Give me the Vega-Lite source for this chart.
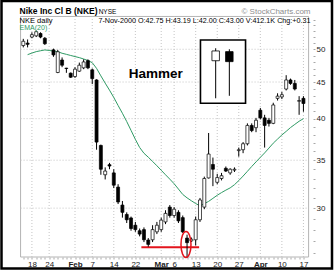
{
  "$schema": "https://vega.github.io/schema/vega-lite/v6.json",
  "width": 330.5,
  "height": 267.5,
  "autosize": {"type": "none"},
  "padding": {"left": 1.5, "top": 1, "right": 4, "bottom": 4.5},
  "background": "white",
  "config": {"view": {"stroke": "black", "strokeWidth": 2.5}, "font": "Liberation Sans"},
  "datasets": {
    "candles": [
      {"d": -2, "o": 50.6, "h": 51.7, "l": 50.3, "c": 51.3},
      {"d": -1, "o": 51.0, "h": 51.6, "l": 50.3, "c": 50.8},
      {"d": 0, "o": 52.0, "h": 52.8, "l": 51.8, "c": 52.4},
      {"d": 1, "o": 52.2, "h": 53.1, "l": 52.0, "c": 52.9},
      {"d": 2, "o": 52.6, "h": 52.8, "l": 51.8, "c": 52.0},
      {"d": 3, "o": 51.8, "h": 52.0, "l": 50.7, "c": 50.9},
      {"d": 5, "o": 49.9, "h": 50.1, "l": 48.8, "c": 49.1},
      {"d": 6, "o": 46.4, "h": 49.9, "l": 46.3, "c": 49.6},
      {"d": 7, "o": 48.3, "h": 48.7, "l": 47.2, "c": 47.5},
      {"d": 8, "o": 47.05, "h": 47.1, "l": 46.35, "c": 47.0},
      {"d": 9, "o": 46.3, "h": 46.4, "l": 45.6, "c": 45.7},
      {"d": 10, "o": 45.8, "h": 47.2, "l": 45.6, "c": 46.9},
      {"d": 11, "o": 46.6, "h": 47.9, "l": 46.5, "c": 47.5},
      {"d": 12, "o": 47.1, "h": 48.4, "l": 46.9, "c": 48.0},
      {"d": 13, "o": 48.2, "h": 48.4, "l": 46.9, "c": 47.1},
      {"d": 14, "o": 46.8, "h": 47.0, "l": 44.7, "c": 45.5},
      {"d": 15, "o": 45.3, "h": 45.4, "l": 36.2, "c": 37.1},
      {"d": 16, "o": 36.7, "h": 36.8, "l": 33.4, "c": 34.0},
      {"d": 17, "o": 33.4, "h": 34.2, "l": 32.9, "c": 33.8},
      {"d": 18, "o": 34.5, "h": 34.7, "l": 34.0, "c": 34.35},
      {"d": 19, "o": 33.6, "h": 34.0, "l": 32.0, "c": 32.3},
      {"d": 20, "o": 32.1, "h": 32.4, "l": 30.4, "c": 30.6},
      {"d": 21, "o": 30.3, "h": 30.7, "l": 29.1, "c": 29.6},
      {"d": 22, "o": 29.4, "h": 29.6, "l": 28.6, "c": 28.9},
      {"d": 23, "o": 29.07, "h": 29.2, "l": 27.9, "c": 28.1},
      {"d": 24, "o": 28.4, "h": 28.7, "l": 27.8, "c": 28.0},
      {"d": 25, "o": 27.9, "h": 28.1, "l": 27.4, "c": 27.6},
      {"d": 26, "o": 28.0, "h": 28.2, "l": 26.9, "c": 27.1},
      {"d": 27, "o": 27.08, "h": 27.25, "l": 26.5, "c": 26.7},
      {"d": 28, "o": 27.1, "h": 28.4, "l": 26.9, "c": 28.0},
      {"d": 29, "o": 27.8, "h": 28.7, "l": 27.6, "c": 28.4},
      {"d": 30, "o": 28.0, "h": 29.1, "l": 27.8, "c": 28.87},
      {"d": 31, "o": 28.7, "h": 29.8, "l": 28.5, "c": 29.5},
      {"d": 32, "o": 30.1, "h": 30.3, "l": 29.1, "c": 29.3},
      {"d": 33, "o": 29.3, "h": 30.1, "l": 29.1, "c": 29.9},
      {"d": 34, "o": 29.6, "h": 29.8, "l": 28.6, "c": 28.8},
      {"d": 35, "o": 29.1, "h": 29.3, "l": 27.7, "c": 27.8},
      {"d": 36, "o": 27.25, "h": 27.55, "l": 25.6, "c": 26.85},
      {"d": 37, "o": 27.0, "h": 27.3, "l": 26.9, "c": 27.15},
      {"d": 38, "o": 27.1, "h": 29.2, "l": 26.6, "c": 28.9},
      {"d": 39, "o": 28.9, "h": 31.0, "l": 28.7, "c": 30.8},
      {"d": 40, "o": 30.1, "h": 33.2, "l": 29.9, "c": 33.0},
      {"d": 41, "o": 33.06, "h": 38.2, "l": 33.0, "c": 35.7},
      {"d": 42, "o": 34.52, "h": 35.3, "l": 32.2, "c": 34.0},
      {"d": 43, "o": 32.6, "h": 33.5, "l": 32.4, "c": 33.1},
      {"d": 44, "o": 33.0, "h": 33.6, "l": 32.8, "c": 33.3},
      {"d": 45, "o": 34.1, "h": 34.3, "l": 33.7, "c": 33.8},
      {"d": 46, "o": 33.6, "h": 34.1, "l": 33.4, "c": 34.0},
      {"d": 47, "o": 33.9, "h": 34.2, "l": 33.7, "c": 34.0},
      {"d": 48, "o": 36.1, "h": 36.45, "l": 35.4, "c": 36.2},
      {"d": 49, "o": 36.2, "h": 37.1, "l": 35.8, "c": 36.9},
      {"d": 50, "o": 36.9, "h": 39.4, "l": 36.7, "c": 39.14},
      {"d": 51, "o": 39.14, "h": 39.4, "l": 38.3, "c": 38.5},
      {"d": 52, "o": 38.86, "h": 40.1, "l": 38.3, "c": 39.8},
      {"d": 53, "o": 41.1, "h": 41.4, "l": 39.9, "c": 40.1},
      {"d": 54, "o": 40.1, "h": 40.5, "l": 36.45, "c": 39.14},
      {"d": 55, "o": 39.8, "h": 40.1, "l": 39.0, "c": 39.4},
      {"d": 56, "o": 39.4, "h": 42.1, "l": 39.3, "c": 41.8},
      {"d": 57, "o": 42.7, "h": 43.4, "l": 42.4, "c": 43.0},
      {"d": 58, "o": 42.9, "h": 43.6, "l": 42.6, "c": 43.2},
      {"d": 59, "o": 44.0, "h": 46.0, "l": 43.8, "c": 45.3},
      {"d": 60, "o": 45.3, "h": 45.5, "l": 44.6, "c": 44.8},
      {"d": 61, "o": 44.8, "h": 45.3, "l": 43.8, "c": 44.0},
      {"d": 62, "o": 42.3, "h": 43.0, "l": 40.5, "c": 42.4},
      {"d": 63, "o": 42.7, "h": 43.0, "l": 40.9, "c": 42.0}
    ],
    "ema": [
      {"d": -1, "ema": 49.14}, {"d": 0, "ema": 49.39}, {"d": 1, "ema": 49.62}, {"d": 2, "ema": 49.76},
      {"d": 3, "ema": 49.89}, {"d": 4, "ema": 49.81}, {"d": 5, "ema": 49.71}, {"d": 6, "ema": 49.62},
      {"d": 7, "ema": 49.36}, {"d": 8, "ema": 49.19}, {"d": 9, "ema": 49.01}, {"d": 10, "ema": 48.84},
      {"d": 11, "ema": 48.67}, {"d": 12, "ema": 48.46}, {"d": 13, "ema": 48.22}, {"d": 14, "ema": 47.89},
      {"d": 15, "ema": 47.02}, {"d": 16, "ema": 45.9}, {"d": 17, "ema": 44.84}, {"d": 18, "ema": 43.84},
      {"d": 19, "ema": 42.82}, {"d": 20, "ema": 41.73}, {"d": 21, "ema": 40.7}, {"d": 22, "ema": 39.63},
      {"d": 23, "ema": 38.52}, {"d": 24, "ema": 37.43}, {"d": 25, "ema": 36.46}, {"d": 26, "ema": 35.79},
      {"d": 27, "ema": 35.34}, {"d": 28, "ema": 34.86}, {"d": 29, "ema": 34.38}, {"d": 30, "ema": 33.89},
      {"d": 31, "ema": 33.4}, {"d": 32, "ema": 32.93}, {"d": 33, "ema": 32.45}, {"d": 34, "ema": 31.9},
      {"d": 35, "ema": 31.35}, {"d": 36, "ema": 31.01}, {"d": 37, "ema": 30.72}, {"d": 38, "ema": 30.45},
      {"d": 39, "ema": 30.22}, {"d": 40, "ema": 30.44}, {"d": 41, "ema": 30.66}, {"d": 42, "ema": 30.96},
      {"d": 43, "ema": 31.27}, {"d": 44, "ema": 31.54}, {"d": 45, "ema": 31.79}, {"d": 46, "ema": 32.02},
      {"d": 47, "ema": 32.35}, {"d": 48, "ema": 32.78}, {"d": 49, "ema": 33.26}, {"d": 50, "ema": 33.77},
      {"d": 51, "ema": 34.3}, {"d": 52, "ema": 34.81}, {"d": 53, "ema": 35.32}, {"d": 54, "ema": 35.83},
      {"d": 55, "ema": 36.39}, {"d": 56, "ema": 36.97}, {"d": 57, "ema": 37.46}, {"d": 58, "ema": 37.96},
      {"d": 59, "ema": 38.4}, {"d": 60, "ema": 38.87}, {"d": 61, "ema": 39.27}, {"d": 62, "ema": 39.67},
      {"d": 63, "ema": 40.0}
    ],
    "xgrid": [
      {"d": 0}, {"d": 4}, {"d": 10}, {"d": 14}, {"d": 19}, {"d": 24}, {"d": 30},
      {"d": 33}, {"d": 38}, {"d": 43}, {"d": 48}, {"d": 53}, {"d": 58}, {"d": 63}
    ],
    "ygrid": [{"p": 30}, {"p": 35}, {"p": 40}, {"p": 45}, {"p": 50}],
    "legendCandles": [
      {"d": 42.64, "o": 48.19, "h": 50.16, "l": 42.71, "c": 49.73},
      {"d": 45.81, "o": 49.62, "h": 50.0, "l": 43.05, "c": 48.05}
    ]
  },
  "layer": [
    {
      "data": {"values": [{}]},
      "mark": {"type": "rect", "fill": null, "stroke": "#b4b4b4", "strokeWidth": 1},
      "encoding": {
        "x": {"datum": -2.633, "type": "quantitative", "scale": {"domain": [-5.896, 68.47], "nice": false, "zero": false}, "axis": {"orient": "bottom", "offset": -11.5, "domain": false, "grid": false, "title": null, "values": [-2,-1,0,1,2,3,4,5,6,7,8,9,10,11,12,13,14,15,16,17,18,19,20,21,22,23,24,25,26,27,28,29,30,31,32,33,34,35,36,37,38,39,40,41,42,43,44,45,46,47,48,49,50,51,52,53,54,55,56,57,58,59,60,61,62,63], "tickSize": 2, "tickColor": "#a8a8a8", "tickWidth": 1, "labelExpr": "indexof([0,4,10,14,19,24,30,33,38,43,48,53,58,63], datum.value) >= 0 ? ['18','24','Feb','7','14','22','Mar','6','13','20','27','Apr','10','17'][indexof([0,4,10,14,19,24,30,33,38,43,48,53,58,63], datum.value)] : ''", "labelFontSize": 8, "labelColor": "#222222", "labelPadding": 1, "labelOverlap": false, "labelFlush": false, "labelBound": false, "labelFontWeight": {"condition": {"test": "indexof([10,30,53], datum.value) >= 0", "value": "bold"}, "value": "normal"}}},
        "x2": {"datum": 64.2},
        "y": {"datum": 25.64, "type": "quantitative", "scale": {"type": "log", "domain": [24.71, 58.39], "nice": false}, "axis": {"orient": "right", "offset": -19, "domain": false, "grid": false, "title": null, "values": [26,27,28,29,30,31,32,33,34,35,36,37,38,39,40,41,42,43,44,45,46,47,48,49,50,51,52,53,54,55], "tickSize": 2, "tickColor": "#a8a8a8", "labelExpr": "(datum.value % 5 == 0 && datum.value >= 30 && datum.value <= 50) ? datum.label : ''", "labelFontSize": 8, "labelColor": "#222222", "labelPadding": 1, "labelOverlap": false, "labelBound": false}},
        "y2": {"datum": 55.56}
      }
    },
    {
      "data": {"name": "xgrid"},
      "mark": {"type": "rule", "stroke": "#c4c4c4", "strokeWidth": 1, "strokeDash": [1, 2]},
      "encoding": {
        "x": {"field": "d", "type": "quantitative", "scale": {"domain": [-5.896, 68.47], "nice": false, "zero": false}, "axis": {"orient": "bottom", "offset": -11.5, "domain": false, "grid": false, "title": null, "values": [-2,-1,0,1,2,3,4,5,6,7,8,9,10,11,12,13,14,15,16,17,18,19,20,21,22,23,24,25,26,27,28,29,30,31,32,33,34,35,36,37,38,39,40,41,42,43,44,45,46,47,48,49,50,51,52,53,54,55,56,57,58,59,60,61,62,63], "tickSize": 2, "tickColor": "#a8a8a8", "tickWidth": 1, "labelExpr": "indexof([0,4,10,14,19,24,30,33,38,43,48,53,58,63], datum.value) >= 0 ? ['18','24','Feb','7','14','22','Mar','6','13','20','27','Apr','10','17'][indexof([0,4,10,14,19,24,30,33,38,43,48,53,58,63], datum.value)] : ''", "labelFontSize": 8, "labelColor": "#222222", "labelPadding": 1, "labelOverlap": false, "labelFlush": false, "labelBound": false, "labelFontWeight": {"condition": {"test": "indexof([10,30,53], datum.value) >= 0", "value": "bold"}, "value": "normal"}}},
        "y": {"datum": 25.64, "type": "quantitative", "scale": {"type": "log", "domain": [24.71, 58.39], "nice": false}, "axis": {"orient": "right", "offset": -19, "domain": false, "grid": false, "title": null, "values": [26,27,28,29,30,31,32,33,34,35,36,37,38,39,40,41,42,43,44,45,46,47,48,49,50,51,52,53,54,55], "tickSize": 2, "tickColor": "#a8a8a8", "labelExpr": "(datum.value % 5 == 0 && datum.value >= 30 && datum.value <= 50) ? datum.label : ''", "labelFontSize": 8, "labelColor": "#222222", "labelPadding": 1, "labelOverlap": false, "labelBound": false}},
        "y2": {"datum": 55.56}
      }
    },
    {
      "data": {"name": "ygrid"},
      "mark": {"type": "rule", "stroke": "#c4c4c4", "strokeWidth": 1, "strokeDash": [1, 2]},
      "encoding": {
        "x": {"datum": -2.633, "type": "quantitative", "scale": {"domain": [-5.896, 68.47], "nice": false, "zero": false}, "axis": {"orient": "bottom", "offset": -11.5, "domain": false, "grid": false, "title": null, "values": [-2,-1,0,1,2,3,4,5,6,7,8,9,10,11,12,13,14,15,16,17,18,19,20,21,22,23,24,25,26,27,28,29,30,31,32,33,34,35,36,37,38,39,40,41,42,43,44,45,46,47,48,49,50,51,52,53,54,55,56,57,58,59,60,61,62,63], "tickSize": 2, "tickColor": "#a8a8a8", "tickWidth": 1, "labelExpr": "indexof([0,4,10,14,19,24,30,33,38,43,48,53,58,63], datum.value) >= 0 ? ['18','24','Feb','7','14','22','Mar','6','13','20','27','Apr','10','17'][indexof([0,4,10,14,19,24,30,33,38,43,48,53,58,63], datum.value)] : ''", "labelFontSize": 8, "labelColor": "#222222", "labelPadding": 1, "labelOverlap": false, "labelFlush": false, "labelBound": false, "labelFontWeight": {"condition": {"test": "indexof([10,30,53], datum.value) >= 0", "value": "bold"}, "value": "normal"}}},
        "x2": {"datum": 64.2},
        "y": {"field": "p", "type": "quantitative", "scale": {"type": "log", "domain": [24.71, 58.39], "nice": false}, "axis": {"orient": "right", "offset": -19, "domain": false, "grid": false, "title": null, "values": [26,27,28,29,30,31,32,33,34,35,36,37,38,39,40,41,42,43,44,45,46,47,48,49,50,51,52,53,54,55], "tickSize": 2, "tickColor": "#a8a8a8", "labelExpr": "(datum.value % 5 == 0 && datum.value >= 30 && datum.value <= 50) ? datum.label : ''", "labelFontSize": 8, "labelColor": "#222222", "labelPadding": 1, "labelOverlap": false, "labelBound": false}}
      }
    },
    {
      "data": {"name": "ema"},
      "mark": {"type": "line", "stroke": "#2f9a64", "strokeWidth": 1},
      "encoding": {
        "x": {"field": "d", "type": "quantitative", "scale": {"domain": [-5.896, 68.47], "nice": false, "zero": false}, "axis": {"orient": "bottom", "offset": -11.5, "domain": false, "grid": false, "title": null, "values": [-2,-1,0,1,2,3,4,5,6,7,8,9,10,11,12,13,14,15,16,17,18,19,20,21,22,23,24,25,26,27,28,29,30,31,32,33,34,35,36,37,38,39,40,41,42,43,44,45,46,47,48,49,50,51,52,53,54,55,56,57,58,59,60,61,62,63], "tickSize": 2, "tickColor": "#a8a8a8", "tickWidth": 1, "labelExpr": "indexof([0,4,10,14,19,24,30,33,38,43,48,53,58,63], datum.value) >= 0 ? ['18','24','Feb','7','14','22','Mar','6','13','20','27','Apr','10','17'][indexof([0,4,10,14,19,24,30,33,38,43,48,53,58,63], datum.value)] : ''", "labelFontSize": 8, "labelColor": "#222222", "labelPadding": 1, "labelOverlap": false, "labelFlush": false, "labelBound": false, "labelFontWeight": {"condition": {"test": "indexof([10,30,53], datum.value) >= 0", "value": "bold"}, "value": "normal"}}},
        "y": {"field": "ema", "type": "quantitative", "scale": {"type": "log", "domain": [24.71, 58.39], "nice": false}, "axis": {"orient": "right", "offset": -19, "domain": false, "grid": false, "title": null, "values": [26,27,28,29,30,31,32,33,34,35,36,37,38,39,40,41,42,43,44,45,46,47,48,49,50,51,52,53,54,55], "tickSize": 2, "tickColor": "#a8a8a8", "labelExpr": "(datum.value % 5 == 0 && datum.value >= 30 && datum.value <= 50) ? datum.label : ''", "labelFontSize": 8, "labelColor": "#222222", "labelPadding": 1, "labelOverlap": false, "labelBound": false}}
      }
    },
    {
      "data": {"values": [{}]},
      "mark": {"type": "rule", "stroke": "#e3141c", "strokeWidth": 2},
      "encoding": {
        "x": {"datum": 25.4, "type": "quantitative", "scale": {"domain": [-5.896, 68.47], "nice": false, "zero": false}, "axis": {"orient": "bottom", "offset": -11.5, "domain": false, "grid": false, "title": null, "values": [-2,-1,0,1,2,3,4,5,6,7,8,9,10,11,12,13,14,15,16,17,18,19,20,21,22,23,24,25,26,27,28,29,30,31,32,33,34,35,36,37,38,39,40,41,42,43,44,45,46,47,48,49,50,51,52,53,54,55,56,57,58,59,60,61,62,63], "tickSize": 2, "tickColor": "#a8a8a8", "tickWidth": 1, "labelExpr": "indexof([0,4,10,14,19,24,30,33,38,43,48,53,58,63], datum.value) >= 0 ? ['18','24','Feb','7','14','22','Mar','6','13','20','27','Apr','10','17'][indexof([0,4,10,14,19,24,30,33,38,43,48,53,58,63], datum.value)] : ''", "labelFontSize": 8, "labelColor": "#222222", "labelPadding": 1, "labelOverlap": false, "labelFlush": false, "labelBound": false, "labelFontWeight": {"condition": {"test": "indexof([10,30,53], datum.value) >= 0", "value": "bold"}, "value": "normal"}}},
        "x2": {"datum": 38.8},
        "y": {"datum": 26.45, "type": "quantitative", "scale": {"type": "log", "domain": [24.71, 58.39], "nice": false}, "axis": {"orient": "right", "offset": -19, "domain": false, "grid": false, "title": null, "values": [26,27,28,29,30,31,32,33,34,35,36,37,38,39,40,41,42,43,44,45,46,47,48,49,50,51,52,53,54,55], "tickSize": 2, "tickColor": "#a8a8a8", "labelExpr": "(datum.value % 5 == 0 && datum.value >= 30 && datum.value <= 50) ? datum.label : ''", "labelFontSize": 8, "labelColor": "#222222", "labelPadding": 1, "labelOverlap": false, "labelBound": false}}
      }
    },
    {
      "data": {"name": "candles"},
      "mark": {"type": "rule", "stroke": "black", "strokeWidth": 1},
      "encoding": {
        "x": {"field": "d", "type": "quantitative", "scale": {"domain": [-5.896, 68.47], "nice": false, "zero": false}, "axis": {"orient": "bottom", "offset": -11.5, "domain": false, "grid": false, "title": null, "values": [-2,-1,0,1,2,3,4,5,6,7,8,9,10,11,12,13,14,15,16,17,18,19,20,21,22,23,24,25,26,27,28,29,30,31,32,33,34,35,36,37,38,39,40,41,42,43,44,45,46,47,48,49,50,51,52,53,54,55,56,57,58,59,60,61,62,63], "tickSize": 2, "tickColor": "#a8a8a8", "tickWidth": 1, "labelExpr": "indexof([0,4,10,14,19,24,30,33,38,43,48,53,58,63], datum.value) >= 0 ? ['18','24','Feb','7','14','22','Mar','6','13','20','27','Apr','10','17'][indexof([0,4,10,14,19,24,30,33,38,43,48,53,58,63], datum.value)] : ''", "labelFontSize": 8, "labelColor": "#222222", "labelPadding": 1, "labelOverlap": false, "labelFlush": false, "labelBound": false, "labelFontWeight": {"condition": {"test": "indexof([10,30,53], datum.value) >= 0", "value": "bold"}, "value": "normal"}}},
        "y": {"field": "l", "type": "quantitative", "scale": {"type": "log", "domain": [24.71, 58.39], "nice": false}, "axis": {"orient": "right", "offset": -19, "domain": false, "grid": false, "title": null, "values": [26,27,28,29,30,31,32,33,34,35,36,37,38,39,40,41,42,43,44,45,46,47,48,49,50,51,52,53,54,55], "tickSize": 2, "tickColor": "#a8a8a8", "labelExpr": "(datum.value % 5 == 0 && datum.value >= 30 && datum.value <= 50) ? datum.label : ''", "labelFontSize": 8, "labelColor": "#222222", "labelPadding": 1, "labelOverlap": false, "labelBound": false}},
        "y2": {"field": "h"}
      }
    },
    {
      "data": {"name": "candles"},
      "mark": {"type": "bar", "size": 3, "stroke": "black", "strokeWidth": 0.7},
      "encoding": {
        "x": {"field": "d", "type": "quantitative", "scale": {"domain": [-5.896, 68.47], "nice": false, "zero": false}, "axis": {"orient": "bottom", "offset": -11.5, "domain": false, "grid": false, "title": null, "values": [-2,-1,0,1,2,3,4,5,6,7,8,9,10,11,12,13,14,15,16,17,18,19,20,21,22,23,24,25,26,27,28,29,30,31,32,33,34,35,36,37,38,39,40,41,42,43,44,45,46,47,48,49,50,51,52,53,54,55,56,57,58,59,60,61,62,63], "tickSize": 2, "tickColor": "#a8a8a8", "tickWidth": 1, "labelExpr": "indexof([0,4,10,14,19,24,30,33,38,43,48,53,58,63], datum.value) >= 0 ? ['18','24','Feb','7','14','22','Mar','6','13','20','27','Apr','10','17'][indexof([0,4,10,14,19,24,30,33,38,43,48,53,58,63], datum.value)] : ''", "labelFontSize": 8, "labelColor": "#222222", "labelPadding": 1, "labelOverlap": false, "labelFlush": false, "labelBound": false, "labelFontWeight": {"condition": {"test": "indexof([10,30,53], datum.value) >= 0", "value": "bold"}, "value": "normal"}}},
        "y": {"field": "o", "type": "quantitative", "scale": {"type": "log", "domain": [24.71, 58.39], "nice": false}, "axis": {"orient": "right", "offset": -19, "domain": false, "grid": false, "title": null, "values": [26,27,28,29,30,31,32,33,34,35,36,37,38,39,40,41,42,43,44,45,46,47,48,49,50,51,52,53,54,55], "tickSize": 2, "tickColor": "#a8a8a8", "labelExpr": "(datum.value % 5 == 0 && datum.value >= 30 && datum.value <= 50) ? datum.label : ''", "labelFontSize": 8, "labelColor": "#222222", "labelPadding": 1, "labelOverlap": false, "labelBound": false}},
        "y2": {"field": "c"},
        "fill": {"condition": {"test": "datum.c >= datum.o", "value": "white"}, "value": "black"}
      }
    },
    {
      "data": {"values": [{}]},
      "mark": {"type": "point", "shape": "M0,-1 C0.2127,-1 0.385,-0.5523 0.385,0 C0.385,0.5523 0.2127,1 0,1 C-0.2127,1 -0.385,0.5523 -0.385,0 C-0.385,-0.5523 -0.2127,-1 0,-1 Z", "size": 676, "filled": false, "stroke": "#e3141c", "strokeWidth": 1.5, "opacity": 1},
      "encoding": {
        "x": {"datum": 35.75, "type": "quantitative", "scale": {"domain": [-5.896, 68.47], "nice": false, "zero": false}, "axis": {"orient": "bottom", "offset": -11.5, "domain": false, "grid": false, "title": null, "values": [-2,-1,0,1,2,3,4,5,6,7,8,9,10,11,12,13,14,15,16,17,18,19,20,21,22,23,24,25,26,27,28,29,30,31,32,33,34,35,36,37,38,39,40,41,42,43,44,45,46,47,48,49,50,51,52,53,54,55,56,57,58,59,60,61,62,63], "tickSize": 2, "tickColor": "#a8a8a8", "tickWidth": 1, "labelExpr": "indexof([0,4,10,14,19,24,30,33,38,43,48,53,58,63], datum.value) >= 0 ? ['18','24','Feb','7','14','22','Mar','6','13','20','27','Apr','10','17'][indexof([0,4,10,14,19,24,30,33,38,43,48,53,58,63], datum.value)] : ''", "labelFontSize": 8, "labelColor": "#222222", "labelPadding": 1, "labelOverlap": false, "labelFlush": false, "labelBound": false, "labelFontWeight": {"condition": {"test": "indexof([10,30,53], datum.value) >= 0", "value": "bold"}, "value": "normal"}}},
        "y": {"datum": 26.69, "type": "quantitative", "scale": {"type": "log", "domain": [24.71, 58.39], "nice": false}, "axis": {"orient": "right", "offset": -19, "domain": false, "grid": false, "title": null, "values": [26,27,28,29,30,31,32,33,34,35,36,37,38,39,40,41,42,43,44,45,46,47,48,49,50,51,52,53,54,55], "tickSize": 2, "tickColor": "#a8a8a8", "labelExpr": "(datum.value % 5 == 0 && datum.value >= 30 && datum.value <= 50) ? datum.label : ''", "labelFontSize": 8, "labelColor": "#222222", "labelPadding": 1, "labelOverlap": false, "labelBound": false}}
      }
    },
    {
      "data": {"values": [{}]},
      "mark": {"type": "rect", "fill": "white", "stroke": "black", "strokeWidth": 1.6},
      "encoding": {
        "x": {"datum": 39.11, "type": "quantitative", "scale": {"domain": [-5.896, 68.47], "nice": false, "zero": false}, "axis": {"orient": "bottom", "offset": -11.5, "domain": false, "grid": false, "title": null, "values": [-2,-1,0,1,2,3,4,5,6,7,8,9,10,11,12,13,14,15,16,17,18,19,20,21,22,23,24,25,26,27,28,29,30,31,32,33,34,35,36,37,38,39,40,41,42,43,44,45,46,47,48,49,50,51,52,53,54,55,56,57,58,59,60,61,62,63], "tickSize": 2, "tickColor": "#a8a8a8", "tickWidth": 1, "labelExpr": "indexof([0,4,10,14,19,24,30,33,38,43,48,53,58,63], datum.value) >= 0 ? ['18','24','Feb','7','14','22','Mar','6','13','20','27','Apr','10','17'][indexof([0,4,10,14,19,24,30,33,38,43,48,53,58,63], datum.value)] : ''", "labelFontSize": 8, "labelColor": "#222222", "labelPadding": 1, "labelOverlap": false, "labelFlush": false, "labelBound": false, "labelFontWeight": {"condition": {"test": "indexof([10,30,53], datum.value) >= 0", "value": "bold"}, "value": "normal"}}},
        "x2": {"datum": 49.57},
        "y": {"datum": 42.03, "type": "quantitative", "scale": {"type": "log", "domain": [24.71, 58.39], "nice": false}, "axis": {"orient": "right", "offset": -19, "domain": false, "grid": false, "title": null, "values": [26,27,28,29,30,31,32,33,34,35,36,37,38,39,40,41,42,43,44,45,46,47,48,49,50,51,52,53,54,55], "tickSize": 2, "tickColor": "#a8a8a8", "labelExpr": "(datum.value % 5 == 0 && datum.value >= 30 && datum.value <= 50) ? datum.label : ''", "labelFontSize": 8, "labelColor": "#222222", "labelPadding": 1, "labelOverlap": false, "labelBound": false}},
        "y2": {"datum": 51.51}
      }
    },
    {
      "data": {"name": "legendCandles"},
      "mark": {"type": "rule", "stroke": "black", "strokeWidth": 1},
      "encoding": {
        "x": {"field": "d", "type": "quantitative", "scale": {"domain": [-5.896, 68.47], "nice": false, "zero": false}, "axis": {"orient": "bottom", "offset": -11.5, "domain": false, "grid": false, "title": null, "values": [-2,-1,0,1,2,3,4,5,6,7,8,9,10,11,12,13,14,15,16,17,18,19,20,21,22,23,24,25,26,27,28,29,30,31,32,33,34,35,36,37,38,39,40,41,42,43,44,45,46,47,48,49,50,51,52,53,54,55,56,57,58,59,60,61,62,63], "tickSize": 2, "tickColor": "#a8a8a8", "tickWidth": 1, "labelExpr": "indexof([0,4,10,14,19,24,30,33,38,43,48,53,58,63], datum.value) >= 0 ? ['18','24','Feb','7','14','22','Mar','6','13','20','27','Apr','10','17'][indexof([0,4,10,14,19,24,30,33,38,43,48,53,58,63], datum.value)] : ''", "labelFontSize": 8, "labelColor": "#222222", "labelPadding": 1, "labelOverlap": false, "labelFlush": false, "labelBound": false, "labelFontWeight": {"condition": {"test": "indexof([10,30,53], datum.value) >= 0", "value": "bold"}, "value": "normal"}}},
        "y": {"field": "l", "type": "quantitative", "scale": {"type": "log", "domain": [24.71, 58.39], "nice": false}, "axis": {"orient": "right", "offset": -19, "domain": false, "grid": false, "title": null, "values": [26,27,28,29,30,31,32,33,34,35,36,37,38,39,40,41,42,43,44,45,46,47,48,49,50,51,52,53,54,55], "tickSize": 2, "tickColor": "#a8a8a8", "labelExpr": "(datum.value % 5 == 0 && datum.value >= 30 && datum.value <= 50) ? datum.label : ''", "labelFontSize": 8, "labelColor": "#222222", "labelPadding": 1, "labelOverlap": false, "labelBound": false}},
        "y2": {"field": "h"}
      }
    },
    {
      "data": {"name": "legendCandles"},
      "mark": {"type": "bar", "size": 7.5, "stroke": "black", "strokeWidth": 0.8},
      "encoding": {
        "x": {"field": "d", "type": "quantitative", "scale": {"domain": [-5.896, 68.47], "nice": false, "zero": false}, "axis": {"orient": "bottom", "offset": -11.5, "domain": false, "grid": false, "title": null, "values": [-2,-1,0,1,2,3,4,5,6,7,8,9,10,11,12,13,14,15,16,17,18,19,20,21,22,23,24,25,26,27,28,29,30,31,32,33,34,35,36,37,38,39,40,41,42,43,44,45,46,47,48,49,50,51,52,53,54,55,56,57,58,59,60,61,62,63], "tickSize": 2, "tickColor": "#a8a8a8", "tickWidth": 1, "labelExpr": "indexof([0,4,10,14,19,24,30,33,38,43,48,53,58,63], datum.value) >= 0 ? ['18','24','Feb','7','14','22','Mar','6','13','20','27','Apr','10','17'][indexof([0,4,10,14,19,24,30,33,38,43,48,53,58,63], datum.value)] : ''", "labelFontSize": 8, "labelColor": "#222222", "labelPadding": 1, "labelOverlap": false, "labelFlush": false, "labelBound": false, "labelFontWeight": {"condition": {"test": "indexof([10,30,53], datum.value) >= 0", "value": "bold"}, "value": "normal"}}},
        "y": {"field": "o", "type": "quantitative", "scale": {"type": "log", "domain": [24.71, 58.39], "nice": false}, "axis": {"orient": "right", "offset": -19, "domain": false, "grid": false, "title": null, "values": [26,27,28,29,30,31,32,33,34,35,36,37,38,39,40,41,42,43,44,45,46,47,48,49,50,51,52,53,54,55], "tickSize": 2, "tickColor": "#a8a8a8", "labelExpr": "(datum.value % 5 == 0 && datum.value >= 30 && datum.value <= 50) ? datum.label : ''", "labelFontSize": 8, "labelColor": "#222222", "labelPadding": 1, "labelOverlap": false, "labelBound": false}},
        "y2": {"field": "c"},
        "fill": {"condition": {"test": "datum.c >= datum.o", "value": "white"}, "value": "black"}
      }
    },
    {
      "data": {"values": [{"t": "Hammer"}]},
      "mark": {"type": "text", "align": "center", "baseline": "middle", "fontSize": 13.5, "fontWeight": "bold", "fill": "black"},
      "encoding": {
        "x": {"datum": 28.76, "type": "quantitative", "scale": {"domain": [-5.896, 68.47], "nice": false, "zero": false}, "axis": {"orient": "bottom", "offset": -11.5, "domain": false, "grid": false, "title": null, "values": [-2,-1,0,1,2,3,4,5,6,7,8,9,10,11,12,13,14,15,16,17,18,19,20,21,22,23,24,25,26,27,28,29,30,31,32,33,34,35,36,37,38,39,40,41,42,43,44,45,46,47,48,49,50,51,52,53,54,55,56,57,58,59,60,61,62,63], "tickSize": 2, "tickColor": "#a8a8a8", "tickWidth": 1, "labelExpr": "indexof([0,4,10,14,19,24,30,33,38,43,48,53,58,63], datum.value) >= 0 ? ['18','24','Feb','7','14','22','Mar','6','13','20','27','Apr','10','17'][indexof([0,4,10,14,19,24,30,33,38,43,48,53,58,63], datum.value)] : ''", "labelFontSize": 8, "labelColor": "#222222", "labelPadding": 1, "labelOverlap": false, "labelFlush": false, "labelBound": false, "labelFontWeight": {"condition": {"test": "indexof([10,30,53], datum.value) >= 0", "value": "bold"}, "value": "normal"}}},
        "y": {"datum": 46.18, "type": "quantitative", "scale": {"type": "log", "domain": [24.71, 58.39], "nice": false}, "axis": {"orient": "right", "offset": -19, "domain": false, "grid": false, "title": null, "values": [26,27,28,29,30,31,32,33,34,35,36,37,38,39,40,41,42,43,44,45,46,47,48,49,50,51,52,53,54,55], "tickSize": 2, "tickColor": "#a8a8a8", "labelExpr": "(datum.value % 5 == 0 && datum.value >= 30 && datum.value <= 50) ? datum.label : ''", "labelFontSize": 8, "labelColor": "#222222", "labelPadding": 1, "labelOverlap": false, "labelBound": false}},
        "text": {"field": "t"}
      }
    },
    {
      "data": {"values": [{"t": "Nike Inc Cl B (NKE)"}]},
      "mark": {"type": "text", "align": "left", "baseline": "alphabetic", "fontSize": 8.5, "fontWeight": "bold", "fill": "black"},
      "encoding": {
        "x": {"datum": -2.858, "type": "quantitative", "scale": {"domain": [-5.896, 68.47], "nice": false, "zero": false}, "axis": {"orient": "bottom", "offset": -11.5, "domain": false, "grid": false, "title": null, "values": [-2,-1,0,1,2,3,4,5,6,7,8,9,10,11,12,13,14,15,16,17,18,19,20,21,22,23,24,25,26,27,28,29,30,31,32,33,34,35,36,37,38,39,40,41,42,43,44,45,46,47,48,49,50,51,52,53,54,55,56,57,58,59,60,61,62,63], "tickSize": 2, "tickColor": "#a8a8a8", "tickWidth": 1, "labelExpr": "indexof([0,4,10,14,19,24,30,33,38,43,48,53,58,63], datum.value) >= 0 ? ['18','24','Feb','7','14','22','Mar','6','13','20','27','Apr','10','17'][indexof([0,4,10,14,19,24,30,33,38,43,48,53,58,63], datum.value)] : ''", "labelFontSize": 8, "labelColor": "#222222", "labelPadding": 1, "labelOverlap": false, "labelFlush": false, "labelBound": false, "labelFontWeight": {"condition": {"test": "indexof([10,30,53], datum.value) >= 0", "value": "bold"}, "value": "normal"}}},
        "y": {"datum": 56.01, "type": "quantitative", "scale": {"type": "log", "domain": [24.71, 58.39], "nice": false}, "axis": {"orient": "right", "offset": -19, "domain": false, "grid": false, "title": null, "values": [26,27,28,29,30,31,32,33,34,35,36,37,38,39,40,41,42,43,44,45,46,47,48,49,50,51,52,53,54,55], "tickSize": 2, "tickColor": "#a8a8a8", "labelExpr": "(datum.value % 5 == 0 && datum.value >= 30 && datum.value <= 50) ? datum.label : ''", "labelFontSize": 8, "labelColor": "#222222", "labelPadding": 1, "labelOverlap": false, "labelBound": false}},
        "text": {"field": "t"}
      }
    },
    {
      "data": {"values": [{"t": "NYSE"}]},
      "mark": {"type": "text", "align": "left", "baseline": "alphabetic", "fontSize": 6.5, "fill": "black"},
      "encoding": {
        "x": {"datum": 15.48, "type": "quantitative", "scale": {"domain": [-5.896, 68.47], "nice": false, "zero": false}, "axis": {"orient": "bottom", "offset": -11.5, "domain": false, "grid": false, "title": null, "values": [-2,-1,0,1,2,3,4,5,6,7,8,9,10,11,12,13,14,15,16,17,18,19,20,21,22,23,24,25,26,27,28,29,30,31,32,33,34,35,36,37,38,39,40,41,42,43,44,45,46,47,48,49,50,51,52,53,54,55,56,57,58,59,60,61,62,63], "tickSize": 2, "tickColor": "#a8a8a8", "tickWidth": 1, "labelExpr": "indexof([0,4,10,14,19,24,30,33,38,43,48,53,58,63], datum.value) >= 0 ? ['18','24','Feb','7','14','22','Mar','6','13','20','27','Apr','10','17'][indexof([0,4,10,14,19,24,30,33,38,43,48,53,58,63], datum.value)] : ''", "labelFontSize": 8, "labelColor": "#222222", "labelPadding": 1, "labelOverlap": false, "labelFlush": false, "labelBound": false, "labelFontWeight": {"condition": {"test": "indexof([10,30,53], datum.value) >= 0", "value": "bold"}, "value": "normal"}}},
        "y": {"datum": 56.01, "type": "quantitative", "scale": {"type": "log", "domain": [24.71, 58.39], "nice": false}, "axis": {"orient": "right", "offset": -19, "domain": false, "grid": false, "title": null, "values": [26,27,28,29,30,31,32,33,34,35,36,37,38,39,40,41,42,43,44,45,46,47,48,49,50,51,52,53,54,55], "tickSize": 2, "tickColor": "#a8a8a8", "labelExpr": "(datum.value % 5 == 0 && datum.value >= 30 && datum.value <= 50) ? datum.label : ''", "labelFontSize": 8, "labelColor": "#222222", "labelPadding": 1, "labelOverlap": false, "labelBound": false}},
        "text": {"field": "t"}
      }
    },
    {
      "data": {"values": [{"t": "© StockCharts.com"}]},
      "mark": {"type": "text", "align": "right", "baseline": "alphabetic", "fontSize": 8, "fill": "#8c8c8c"},
      "encoding": {
        "x": {"datum": 64.65, "type": "quantitative", "scale": {"domain": [-5.896, 68.47], "nice": false, "zero": false}, "axis": {"orient": "bottom", "offset": -11.5, "domain": false, "grid": false, "title": null, "values": [-2,-1,0,1,2,3,4,5,6,7,8,9,10,11,12,13,14,15,16,17,18,19,20,21,22,23,24,25,26,27,28,29,30,31,32,33,34,35,36,37,38,39,40,41,42,43,44,45,46,47,48,49,50,51,52,53,54,55,56,57,58,59,60,61,62,63], "tickSize": 2, "tickColor": "#a8a8a8", "tickWidth": 1, "labelExpr": "indexof([0,4,10,14,19,24,30,33,38,43,48,53,58,63], datum.value) >= 0 ? ['18','24','Feb','7','14','22','Mar','6','13','20','27','Apr','10','17'][indexof([0,4,10,14,19,24,30,33,38,43,48,53,58,63], datum.value)] : ''", "labelFontSize": 8, "labelColor": "#222222", "labelPadding": 1, "labelOverlap": false, "labelFlush": false, "labelBound": false, "labelFontWeight": {"condition": {"test": "indexof([10,30,53], datum.value) >= 0", "value": "bold"}, "value": "normal"}}},
        "y": {"datum": 56.01, "type": "quantitative", "scale": {"type": "log", "domain": [24.71, 58.39], "nice": false}, "axis": {"orient": "right", "offset": -19, "domain": false, "grid": false, "title": null, "values": [26,27,28,29,30,31,32,33,34,35,36,37,38,39,40,41,42,43,44,45,46,47,48,49,50,51,52,53,54,55], "tickSize": 2, "tickColor": "#a8a8a8", "labelExpr": "(datum.value % 5 == 0 && datum.value >= 30 && datum.value <= 50) ? datum.label : ''", "labelFontSize": 8, "labelColor": "#222222", "labelPadding": 1, "labelOverlap": false, "labelBound": false}},
        "text": {"field": "t"}
      }
    },
    {
      "data": {"values": [{"t": "NKE daily"}]},
      "mark": {"type": "text", "align": "left", "baseline": "alphabetic", "fontSize": 7.5, "fill": "black"},
      "encoding": {
        "x": {"datum": -2.858, "type": "quantitative", "scale": {"domain": [-5.896, 68.47], "nice": false, "zero": false}, "axis": {"orient": "bottom", "offset": -11.5, "domain": false, "grid": false, "title": null, "values": [-2,-1,0,1,2,3,4,5,6,7,8,9,10,11,12,13,14,15,16,17,18,19,20,21,22,23,24,25,26,27,28,29,30,31,32,33,34,35,36,37,38,39,40,41,42,43,44,45,46,47,48,49,50,51,52,53,54,55,56,57,58,59,60,61,62,63], "tickSize": 2, "tickColor": "#a8a8a8", "tickWidth": 1, "labelExpr": "indexof([0,4,10,14,19,24,30,33,38,43,48,53,58,63], datum.value) >= 0 ? ['18','24','Feb','7','14','22','Mar','6','13','20','27','Apr','10','17'][indexof([0,4,10,14,19,24,30,33,38,43,48,53,58,63], datum.value)] : ''", "labelFontSize": 8, "labelColor": "#222222", "labelPadding": 1, "labelOverlap": false, "labelFlush": false, "labelBound": false, "labelFontWeight": {"condition": {"test": "indexof([10,30,53], datum.value) >= 0", "value": "bold"}, "value": "normal"}}},
        "y": {"datum": 54.32, "type": "quantitative", "scale": {"type": "log", "domain": [24.71, 58.39], "nice": false}, "axis": {"orient": "right", "offset": -19, "domain": false, "grid": false, "title": null, "values": [26,27,28,29,30,31,32,33,34,35,36,37,38,39,40,41,42,43,44,45,46,47,48,49,50,51,52,53,54,55], "tickSize": 2, "tickColor": "#a8a8a8", "labelExpr": "(datum.value % 5 == 0 && datum.value >= 30 && datum.value <= 50) ? datum.label : ''", "labelFontSize": 8, "labelColor": "#222222", "labelPadding": 1, "labelOverlap": false, "labelBound": false}},
        "text": {"field": "t"}
      }
    },
    {
      "data": {"values": [{"t": "7-Nov-2000 O:42.75 H:43.19 L:42.00 C:43.00 V:412.1K Chg:+0.31"}]},
      "mark": {"type": "text", "align": "right", "baseline": "alphabetic", "fontSize": 7.2, "fill": "black"},
      "encoding": {
        "x": {"datum": 64.65, "type": "quantitative", "scale": {"domain": [-5.896, 68.47], "nice": false, "zero": false}, "axis": {"orient": "bottom", "offset": -11.5, "domain": false, "grid": false, "title": null, "values": [-2,-1,0,1,2,3,4,5,6,7,8,9,10,11,12,13,14,15,16,17,18,19,20,21,22,23,24,25,26,27,28,29,30,31,32,33,34,35,36,37,38,39,40,41,42,43,44,45,46,47,48,49,50,51,52,53,54,55,56,57,58,59,60,61,62,63], "tickSize": 2, "tickColor": "#a8a8a8", "tickWidth": 1, "labelExpr": "indexof([0,4,10,14,19,24,30,33,38,43,48,53,58,63], datum.value) >= 0 ? ['18','24','Feb','7','14','22','Mar','6','13','20','27','Apr','10','17'][indexof([0,4,10,14,19,24,30,33,38,43,48,53,58,63], datum.value)] : ''", "labelFontSize": 8, "labelColor": "#222222", "labelPadding": 1, "labelOverlap": false, "labelFlush": false, "labelBound": false, "labelFontWeight": {"condition": {"test": "indexof([10,30,53], datum.value) >= 0", "value": "bold"}, "value": "normal"}}},
        "y": {"datum": 54.32, "type": "quantitative", "scale": {"type": "log", "domain": [24.71, 58.39], "nice": false}, "axis": {"orient": "right", "offset": -19, "domain": false, "grid": false, "title": null, "values": [26,27,28,29,30,31,32,33,34,35,36,37,38,39,40,41,42,43,44,45,46,47,48,49,50,51,52,53,54,55], "tickSize": 2, "tickColor": "#a8a8a8", "labelExpr": "(datum.value % 5 == 0 && datum.value >= 30 && datum.value <= 50) ? datum.label : ''", "labelFontSize": 8, "labelColor": "#222222", "labelPadding": 1, "labelOverlap": false, "labelBound": false}},
        "text": {"field": "t"}
      }
    },
    {
      "data": {"values": [{"t": "EMA(20)"}]},
      "mark": {"type": "text", "align": "left", "baseline": "alphabetic", "fontSize": 7, "fill": "#2f9a64"},
      "encoding": {
        "x": {"datum": -2.858, "type": "quantitative", "scale": {"domain": [-5.896, 68.47], "nice": false, "zero": false}, "axis": {"orient": "bottom", "offset": -11.5, "domain": false, "grid": false, "title": null, "values": [-2,-1,0,1,2,3,4,5,6,7,8,9,10,11,12,13,14,15,16,17,18,19,20,21,22,23,24,25,26,27,28,29,30,31,32,33,34,35,36,37,38,39,40,41,42,43,44,45,46,47,48,49,50,51,52,53,54,55,56,57,58,59,60,61,62,63], "tickSize": 2, "tickColor": "#a8a8a8", "tickWidth": 1, "labelExpr": "indexof([0,4,10,14,19,24,30,33,38,43,48,53,58,63], datum.value) >= 0 ? ['18','24','Feb','7','14','22','Mar','6','13','20','27','Apr','10','17'][indexof([0,4,10,14,19,24,30,33,38,43,48,53,58,63], datum.value)] : ''", "labelFontSize": 8, "labelColor": "#222222", "labelPadding": 1, "labelOverlap": false, "labelFlush": false, "labelBound": false, "labelFontWeight": {"condition": {"test": "indexof([10,30,53], datum.value) >= 0", "value": "bold"}, "value": "normal"}}},
        "y": {"datum": 53.12, "type": "quantitative", "scale": {"type": "log", "domain": [24.71, 58.39], "nice": false}, "axis": {"orient": "right", "offset": -19, "domain": false, "grid": false, "title": null, "values": [26,27,28,29,30,31,32,33,34,35,36,37,38,39,40,41,42,43,44,45,46,47,48,49,50,51,52,53,54,55], "tickSize": 2, "tickColor": "#a8a8a8", "labelExpr": "(datum.value % 5 == 0 && datum.value >= 30 && datum.value <= 50) ? datum.label : ''", "labelFontSize": 8, "labelColor": "#222222", "labelPadding": 1, "labelOverlap": false, "labelBound": false}},
        "text": {"field": "t"}
      }
    }
  ]
}
